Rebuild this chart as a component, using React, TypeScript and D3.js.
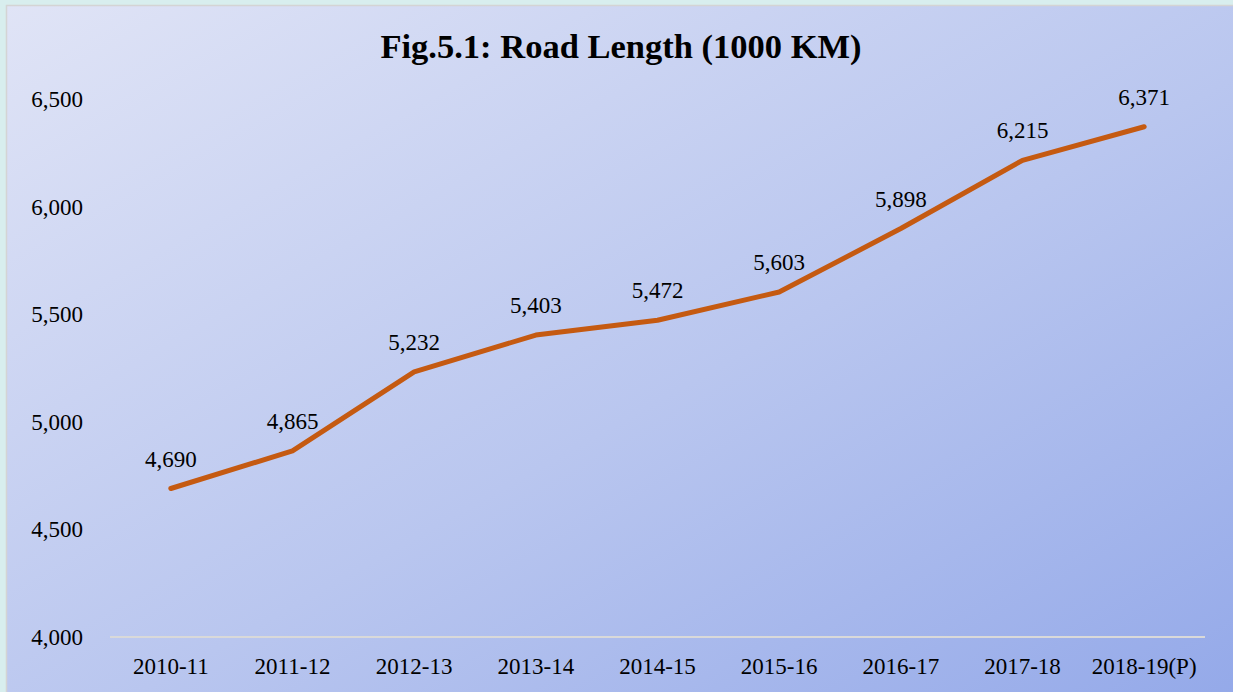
import React, { useEffect, useRef } from 'react';
import * as d3 from 'd3';

const years = ['2010-11', '2011-12', '2012-13', '2013-14', '2014-15', '2015-16', '2016-17', '2017-18', '2018-19(P)'];
const roadLength = [4690, 4865, 5232, 5403, 5472, 5603, 5898, 6215, 6371];
const yTicks = [4000, 4500, 5000, 5500, 6000, 6500];

export default function App() {
    const ref = useRef<SVGSVGElement | null>(null);
    useEffect(() => {
        const svg = d3.select(ref.current);
        svg.selectAll('*').remove();
        const width = 1233, height = 692;
        const margin = { top: 99, right: 28, bottom: 55, left: 110 };
        const font = '"Liberation Serif", "Times New Roman", serif';

        svg.attr('viewBox', `0 0 ${width} ${height}`).attr('width', width).attr('height', height);

        const defs = svg.append('defs');
        const grad = defs.append('linearGradient').attr('id', 'bg')
            .attr('x1', '0%').attr('y1', '0%').attr('x2', '100%').attr('y2', '100%');
        grad.append('stop').attr('offset', '0%').attr('stop-color', '#e0e4f6');
        grad.append('stop').attr('offset', '55%').attr('stop-color', '#b9c6ef');
        grad.append('stop').attr('offset', '100%').attr('stop-color', '#94a9e9');

        svg.append('rect').attr('width', width).attr('height', height).attr('fill', '#d8eeee');
        svg.append('rect').attr('x', 6.5).attr('y', 5.5).attr('width', width).attr('height', height)
            .attr('fill', 'url(#bg)').attr('stroke', '#d4d4d4').attr('stroke-width', 1.5);

        const x = d3.scaleBand<string>().domain(years).range([margin.left, width - margin.right]);
        const y = d3.scaleLinear().domain([4000, 6500]).range([height - margin.bottom, margin.top]);

        // title
        svg.append('text').attr('x', 621).attr('y', 58).attr('text-anchor', 'middle')
            .attr('font-family', font).attr('font-weight', 'bold').attr('font-size', 34.5)
            .attr('fill', '#000').text('Fig.5.1: Road Length (1000 KM)');

        // baseline
        svg.append('line').attr('x1', margin.left).attr('x2', width - margin.right)
            .attr('y1', y(4000)).attr('y2', y(4000)).attr('stroke', '#d9d9d9').attr('stroke-width', 2);

        // y tick labels
        svg.append('g').selectAll('text').data(yTicks).join('text')
            .attr('x', 83).attr('y', d => y(d)).attr('dy', '0.35em').attr('text-anchor', 'end')
            .attr('font-family', font).attr('font-size', 23).attr('fill', '#000')
            .text(d => d3.format(',')(d));

        // x tick labels
        svg.append('g').selectAll('text').data(years).join('text')
            .attr('x', d => (x(d) as number) + x.bandwidth() / 2).attr('y', y(4000) + 37)
            .attr('text-anchor', 'middle')
            .attr('font-family', font).attr('font-size', 23).attr('fill', '#000')
            .text(d => d);

        const pts = years.map((yr, i) => ({ yr, v: roadLength[i] }));
        const line = d3.line<{ yr: string; v: number }>()
            .x(d => (x(d.yr) as number) + x.bandwidth() / 2)
            .y(d => y(d.v));

        svg.append('path').datum(pts).attr('d', line)
            .attr('fill', 'none').attr('stroke', '#c55a11').attr('stroke-width', 5)
            .attr('stroke-linecap', 'round').attr('stroke-linejoin', 'round');

        svg.append('g').selectAll('text').data(pts).join('text')
            .attr('x', d => (x(d.yr) as number) + x.bandwidth() / 2).attr('y', d => y(d.v) - 22)
            .attr('text-anchor', 'middle')
            .attr('font-family', font).attr('font-size', 23).attr('fill', '#000')
            .text(d => d3.format(',')(d.v));
    }, []);
    return <svg ref={ref} style={{ position: 'absolute', left: 0, top: 0, display: 'block' }} />;
}
